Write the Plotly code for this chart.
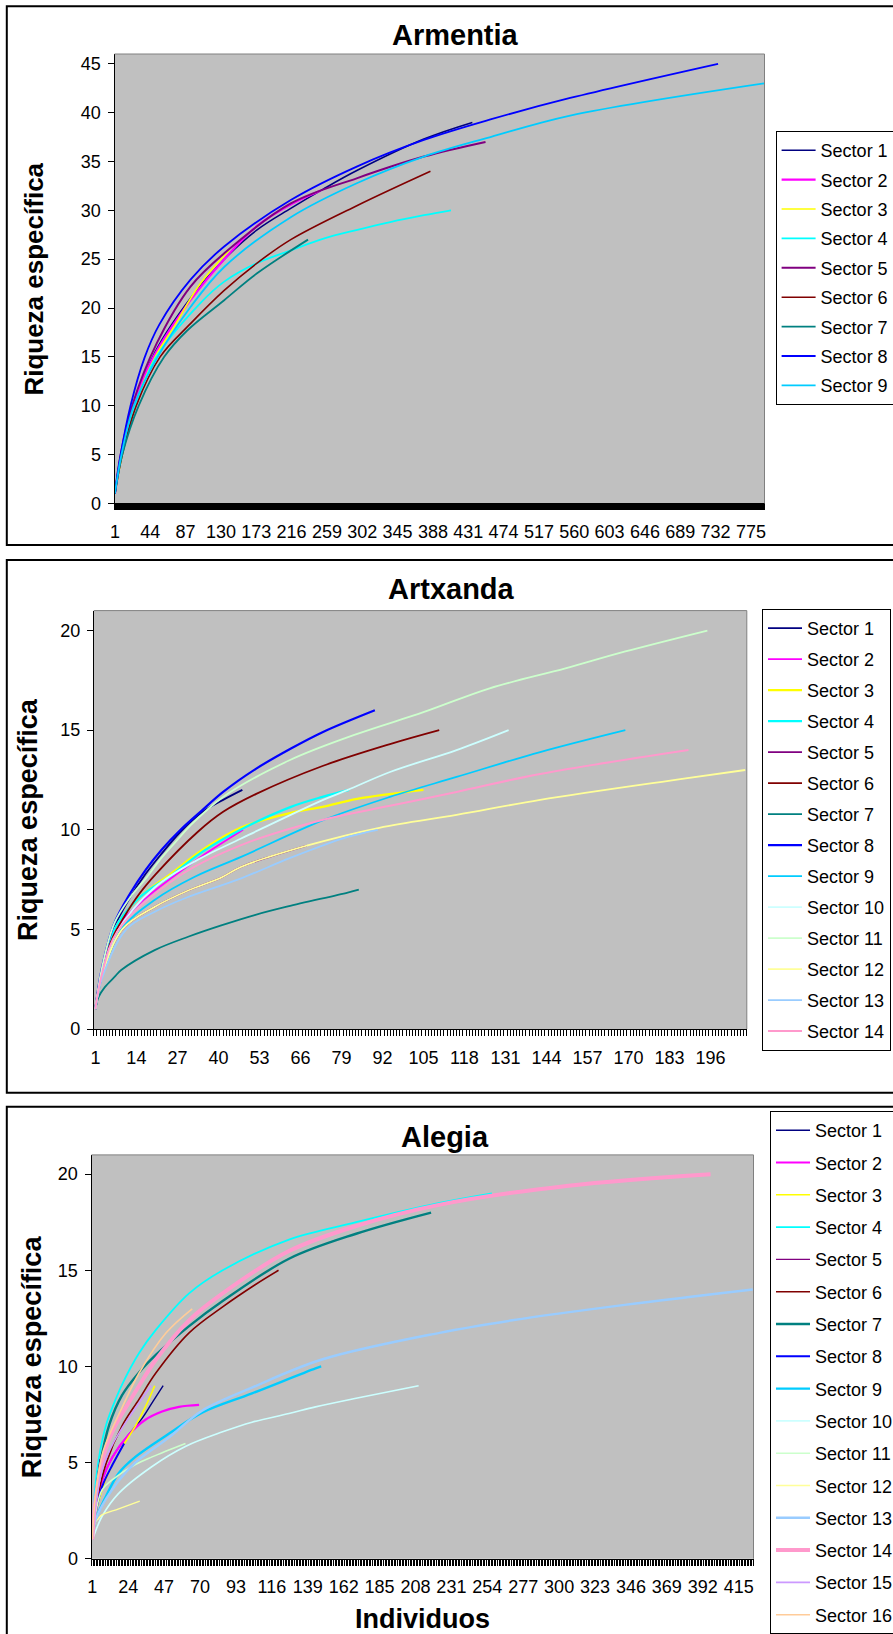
import plotly.graph_objects as go

W, H = 893, 1634


def px(x):
    return x / W


def py(y):
    return 1 - y / H


SECTOR_NAMES = ["Sector %d" % i for i in range(1, 17)]
SECTOR_COLORS = ["#000080", "#FF00FF", "#FFFF00", "#00FFFF", "#800080", "#800000",
                 "#008080", "#0000FF", "#00CCFF", "#CCFFFF", "#CCFFCC", "#FFFF99",
                 "#99CCFF", "#FF99CC", "#CC99FF", "#FFCC99"]

# ---------------- Armentia ----------------
ARM_TICKS = [1, 44, 87, 130, 173, 216, 259, 302, 345, 388, 431, 474, 517, 560, 603, 646, 689, 732, 775]
ARM_N = 791
ARM_X = [
    [1, 9, 24, 50, 93, 133, 174, 215, 255, 296, 377, 436],
    [1, 9, 23, 48, 93, 133, 174, 215, 251],
    [1, 10, 25, 50, 73, 105, 141],
    [1, 9, 26, 50, 105, 134, 174, 215, 255, 296, 336, 377, 410],
    [1, 8, 22, 52, 93, 134, 215, 296, 377, 452],
    [1, 10, 27, 56, 93, 134, 174, 215, 296, 385],
    [1, 10, 30, 61, 89, 134, 174, 236],
    [1, 8, 20, 37, 55, 93, 134, 215, 296, 377, 458, 555, 735],
    [1, 9, 24, 52, 93, 134, 215, 296, 377, 458, 555, 791],
]
ARM_Y = [
    [1, 5, 10, 15.5, 21, 24.9, 28, 30.2, 32.2, 34.1, 37.3, 39],
    [1, 5, 10, 15, 20.8, 24.9, 28.4, 30.6, 32],
    [1, 5, 10, 15, 18.1, 22.5, 26],
    [1, 5, 10, 14.8, 20.5, 22.7, 24.6, 25.9, 27.1, 28, 28.8, 29.5, 30],
    [1, 5, 10, 16.4, 22.2, 25.6, 30.7, 33.3, 35.5, 37],
    [1, 5, 10, 15, 18.4, 21.8, 24.6, 27.0, 30.5, 34],
    [1, 5, 10, 15, 17.7, 20.8, 23.55, 27],
    [1, 5, 10, 14.9, 18.3, 22.9, 26.3, 31.05, 34.5, 37.2, 39.3, 41.5, 45],
    [1, 5, 10, 14.85, 20.1, 24.2, 29.3, 32.8, 35.5, 37.5, 39.7, 43],
]
ARM_W = [1.6, 2.2, 1.6, 1.8, 2.0, 1.6, 1.8, 1.8, 1.8]

# ---------------- Artxanda ----------------
ART_TICKS = [1, 14, 27, 40, 53, 66, 79, 92, 105, 118, 131, 144, 157, 170, 183, 196]
ART_N = 207
ART_X = [
    [1, 3, 7, 12, 17, 22, 28, 35, 41.5, 47.6],
    [1, 3, 7.5, 15, 25.6, 35, 47.8],
    [1, 3, 7, 15, 25, 35, 47, 63, 73, 84, 105],
    [1, 3, 7, 15, 25, 35, 47, 63, 73, 81.4],
    [1, 3, 9.5, 19.8, 30.4, 40.9, 47.2, 68],
    [1, 3, 6.5, 10, 15, 20.3, 33.5, 41.5, 52, 73, 94.4, 110],
    [1, 2, 4, 7, 9.2, 19.8, 30.4, 40.9, 51.5, 62, 81, 84.5],
    [1, 3, 7, 12, 17, 22, 28, 35, 41.5, 52, 63, 73, 89.6],
    [1, 3, 9.2, 20, 32.5, 47.2, 73.2, 94.4, 115.5, 142, 169],
    [1, 3, 8, 19.8, 33.5, 47.2, 73.2, 81, 94.4, 115.5, 132],
    [1, 3, 7, 12, 17.2, 22, 27.6, 31, 41.5, 62.7, 83.8, 105, 126, 150, 169, 195],
    [1, 3, 9.5, 19.8, 30.4, 40.9, 47.2, 68, 91, 115.5, 142, 187, 207],
    [1, 3, 10.8, 20, 30, 47.2, 63, 81, 90.5],
    [1, 3, 8, 27.2, 47.2, 73.2, 94.4, 115.5, 142, 189],
]
ART_Y = [
    [1, 2.9, 5.1, 6.6, 7.8, 8.8, 9.9, 10.9, 11.5, 12],
    [1, 2.6, 5, 6.3, 7.64, 8.7, 10],
    [1, 2.7, 5, 6.6, 7.8, 9.0, 10.1, 10.85, 11.15, 11.55, 12],
    [1, 2.7, 5, 6.6, 7.7, 8.9, 10.0, 11.15, 11.65, 12],
    [1, 2.6, 5, 6.13, 6.95, 7.6, 8.14, 9.2],
    [1, 2.9, 4.6, 5.6, 6.8, 7.8, 9.9, 10.9, 11.8, 13.2, 14.3, 15],
    [1, 1.6, 2.1, 2.6, 2.96, 3.96, 4.63, 5.2, 5.72, 6.15, 6.85, 7],
    [1, 3, 5.3, 6.8, 8.0, 9.0, 10.0, 11.0, 11.9, 13.07, 14.08, 14.9, 16],
    [1, 2.6, 5, 6.5, 7.64, 8.64, 10.48, 11.65, 12.65, 13.9, 15],
    [1, 2.7, 4.9, 7.1, 8.5, 9.56, 11.5, 12.0, 12.9, 14.0, 15],
    [1, 3, 5.3, 6.6, 7.6, 8.6, 9.6, 10.2, 11.65, 13.5, 14.8, 15.9, 17.1, 18.1, 18.95, 20],
    [1, 2.6, 5, 6.13, 6.95, 7.6, 8.14, 9.2, 10.1, 10.75, 11.5, 12.55, 13],
    [1, 2.5, 5, 5.9, 6.6, 7.56, 8.6, 9.64, 10],
    [1, 2.7, 4.9, 7.64, 9.23, 10.5, 11.2, 11.9, 12.8, 14],
]
ART_W = [1.8, 1.8, 2.2, 2.2, 1.8, 1.8, 1.8, 2.2, 1.8, 1.8, 1.8, 1.8, 1.8, 2.0]

# ---------------- Alegia ----------------
ALE_TICKS = [1, 24, 47, 70, 93, 116, 139, 162, 185, 208, 231, 254, 277, 300, 323, 346, 369, 392, 415]
ALE_N = 424
ALE_X = [
    [1, 3, 7, 14, 24.3, 32.9, 40, 46.4],
    [1, 3, 7, 14, 24.3, 35, 45.7, 56.6, 69.4],
    [1, 3, 6.6, 9.5, 17.9, 28.6, 35, 41],
    [1, 3, 6, 10, 14, 20.3, 31, 41.7, 63, 84.5, 127, 170, 223.4, 257],
    [1, 3, 6],
    [1, 4, 10, 20, 31, 41.7, 63, 84.5, 105.3, 120.3],
    [1, 3, 6, 12, 20, 30, 41.7, 63, 84.5, 127, 170, 218],
    [1, 3, 7.3, 14, 21.4],
    [1, 3, 9.5, 17.9, 28.6, 50, 71.3, 103.3, 144, 147.6],
    [1, 2, 7.2, 17.9, 39.3, 60.6, 84.5, 103.3, 127, 144, 170, 210],
    [1, 3, 7.3, 13.7, 28.6, 39.3, 60.7],
    [1, 3, 5, 7.2, 17.9, 31.4],
    [1, 3, 13.7, 28.6, 50, 71.3, 103.3, 147.6, 223.4, 270, 342, 424],
    [1, 3, 8, 15, 25, 31, 41.7, 63, 84.5, 127, 170, 223, 306, 397],
    [1, 3, 8, 15, 25, 38.7],
    [1, 3, 8, 20.3, 31, 48.3, 65],
]
ALE_Y = [
    [1, 2.6, 4, 5.3, 6.45, 7.3, 8.2, 9],
    [1, 2.6, 4, 5.3, 6.45, 7.23, 7.66, 7.9, 8],
    [1, 2.3, 3.4, 4.1, 5.5, 6.9, 7.9, 9],
    [1, 3.8, 5.6, 7.0, 7.9, 9.1, 10.7, 11.9, 13.8, 15, 16.6, 17.5, 18.5, 19],
    [1, 3.2, 5.2],
    [1, 3, 5, 6.9, 8.3, 9.66, 11.75, 13.1, 14.25, 15],
    [1, 3, 4.9, 7.0, 8.5, 9.6, 10.6, 12.1, 13.4, 15.6, 16.9, 18],
    [1, 2.3, 3.75, 4.9, 6],
    [1, 2.0, 3.2, 4.45, 5.3, 6.5, 7.6, 8.6, 9.9, 10],
    [1, 1.2, 2.2, 3.4, 4.8, 5.84, 6.6, 7.1, 7.55, 7.9, 8.35, 9],
    [1, 2.3, 3.6, 4.1, 4.9, 5.3, 6],
    [1, 1.9, 2.1, 2.28, 2.6, 3],
    [1, 2.0, 3.6, 5.0, 6.3, 7.7, 8.9, 10.35, 11.75, 12.4, 13.2, 14],
    [1, 3.0, 5.3, 6.8, 8.2, 9.0, 10.35, 12.4, 13.8, 16.0, 17.3, 18.4, 19.4, 20],
    [1, 2.8, 4.8, 6.1, 7.4, 9],
    [1, 3.2, 5.6, 7.9, 9.66, 11.75, 13],
]
ALE_W = [1.4, 2.2, 1.6, 1.8, 1.4, 1.6, 2.4, 2.0, 2.4, 1.6, 1.6, 1.4, 2.4, 4.0, 1.6, 1.6]

FONT = "Liberation Sans"

fig = go.Figure()

panels = [
    dict(xs=ARM_X, ys=ARM_Y, ws=ARM_W, xa="x", ya="y", lg="legend"),
    dict(xs=ART_X, ys=ART_Y, ws=ART_W, xa="x2", ya="y2", lg="legend2"),
    dict(xs=ALE_X, ys=ALE_Y, ws=ALE_W, xa="x3", ya="y3", lg="legend3"),
]
for pi, p in enumerate(panels):
    for i, (xs, ys) in enumerate(zip(p["xs"], p["ys"])):
        fig.add_trace(go.Scatter(
            x=xs, y=ys, mode="lines", name=SECTOR_NAMES[i],
            line=dict(color=SECTOR_COLORS[i], width=p["ws"][i], shape="spline", smoothing=1.0),
            xaxis=p["xa"], yaxis=p["ya"], legend=p["lg"],
            legendgroup="p%d_s%d" % (pi, i), hoverinfo="skip"))


def xaxis(domain, n, ticks, anchor, tw):
    return dict(domain=domain, range=[0.5, n + 0.5], anchor=anchor,
                tickmode="array", tickvals=ticks, ticktext=[str(t) for t in ticks],
                ticks="", ticklabelstandoff=12, tickangle=0,
                showline=True, linecolor="black", linewidth=1,
                showgrid=False, zeroline=False,
                minor=dict(ticks="outside", tick0=0.5, dtick=1, ticklen=6,
                           tickcolor="black", tickwidth=tw, showgrid=False),
                tickfont=dict(family=FONT, size=18, color="black"))


def yaxis(domain, top, anchor):
    return dict(domain=domain, range=[0, top], anchor=anchor, dtick=5,
                ticks="outside", ticklen=6, tickcolor="black",
                ticklabelstandoff=3,
                showline=True, linecolor="black", linewidth=1,
                showgrid=False, zeroline=False,
                tickfont=dict(family=FONT, size=18, color="black"))


def legend(x, y, gap):
    return dict(x=px(x), y=py(y), xanchor="left", yanchor="top",
                bgcolor="white", bordercolor="black", borderwidth=1,
                font=dict(family=FONT, size=18, color="black"),
                traceorder="grouped", tracegroupgap=gap, itemwidth=34)


fig.update_layout(
    width=W, height=H, margin=dict(l=0, r=0, t=0, b=0, autoexpand=False),
    paper_bgcolor="white", plot_bgcolor="#C0C0C0", showlegend=True,
    xaxis=xaxis([px(114.5), px(764.5)], ARM_N, ARM_TICKS, "y", 0.5),
    yaxis=yaxis([py(503.4), py(54)], 46, "x"),
    xaxis2=xaxis([px(93.8), px(746.8)], ART_N, ART_TICKS, "y2", 1),
    yaxis2=yaxis([py(1029), py(610.6)], 21, "x2"),
    xaxis3=xaxis([px(91.5), px(753.5)], ALE_N, ALE_TICKS, "y3", 1),
    yaxis3=yaxis([py(1558.8), py(1154.9)], 21, "x3"),
    legend=legend(775.6, 131, 3),
    legend2=legend(762, 608.9, 4.6),
    legend3=legend(770, 1111, 5.9),
)

shapes = []
# outer chart borders
for top, bottom in [(6.2, 545), (560.1, 1092.7), (1106.8, 1660)]:
    shapes.append(dict(type="rect", xref="paper", yref="paper",
                       x0=px(6.8), x1=1.05, y0=py(bottom), y1=py(top),
                       line=dict(color="black", width=2), fillcolor="rgba(0,0,0,0)"))
# grey plot-area frame (top and right)
for xa, ya in [("x", "y"), ("x2", "y2"), ("x3", "y3")]:
    shapes.append(dict(type="line", xref=xa + " domain", yref=ya + " domain",
                       x0=0, x1=1, y0=1, y1=1, line=dict(color="#808080", width=1)))
    shapes.append(dict(type="line", xref=xa + " domain", yref=ya + " domain",
                       x0=1, x1=1, y0=0, y1=1, line=dict(color="#808080", width=1)))
fig.update_layout(shapes=shapes)

annotations = [
    dict(text="<b>Armentia</b>", x=px(455.6), y=py(35), font=dict(size=29)),
    dict(text="<b>Artxanda</b>", x=px(451), y=py(589), font=dict(size=29)),
    dict(text="<b>Alegia</b>", x=px(445), y=py(1137), font=dict(size=29)),
    dict(text="<b>Riqueza específica</b>", x=px(33.6), y=py(279), textangle=-90, font=dict(size=26)),
    dict(text="<b>Riqueza específica</b>", x=px(27.9), y=py(819), textangle=-90, font=dict(size=27)),
    dict(text="<b>Riqueza específica</b>", x=px(32.2), y=py(1357), textangle=-90, font=dict(size=27)),
    dict(text="<b>Individuos</b>", x=px(422.3), y=py(1618.5), font=dict(size=27)),
]
for a in annotations:
    a.update(xref="paper", yref="paper", showarrow=False, xanchor="center", yanchor="middle")
    a["font"].update(family=FONT, color="black")
fig.update_layout(annotations=annotations)

fig.write_html("out.html")
